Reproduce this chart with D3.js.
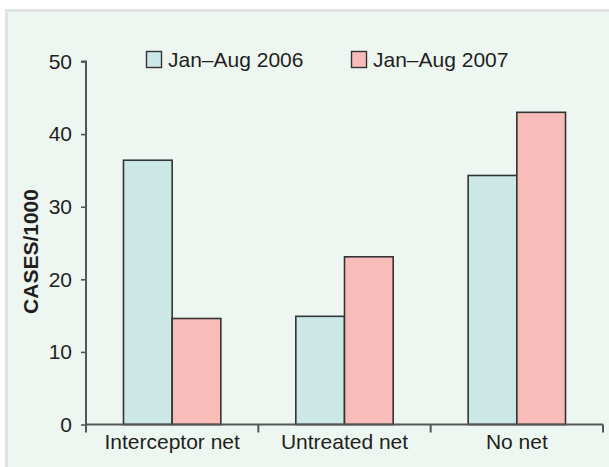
<!DOCTYPE html>
<html>
<head>
<meta charset="utf-8">
<script src="https://cdn.jsdelivr.net/npm/d3@7"></script>
<style>
  html, body { margin: 0; padding: 0; background: #ffffff; }
  svg { display: block; }
  text { font-family: "Liberation Sans", Arial, sans-serif; fill: #231f20; }
</style>
</head>
<body>
<svg id="chart" width="609" height="467"></svg>
<script>
const categories = ["Interceptor net", "Untreated net", "No net"];
const seriesNames = ["Jan\u2013Aug 2006", "Jan\u2013Aug 2007"];
const values2006 = [36.4, 14.9, 34.3];
const values2007 = [14.6, 23.1, 43.0];
const yTicks = [0, 10, 20, 30, 40, 50];
const yLabel = "CASES/1000";
const colors = ["#cbe8e7", "#f9bdb9"];

(function () {
const svg = d3.select("#chart");

// panel background
svg.append("rect")
  .attr("x", 6.5).attr("y", 10.5)
  .attr("width", 620).attr("height", 480)
  .attr("fill", "#eef6f1")
  .attr("stroke", "#dfe3e3").attr("stroke-width", 3);

const mLeft = 86, mRight = 603, mTop = 61.5, mBottom = 424.5;

const x0 = d3.scaleBand().domain(categories).range([mLeft, mRight]).padding(0);
const x1 = d3.scaleBand().domain(seriesNames).range([0, x0.bandwidth()]).paddingInner(0).paddingOuter(0.77);
const y = d3.scaleLinear().domain([0, 50]).range([mBottom, mTop]);

const data = categories.map((c, i) => ({
  cat: c,
  vals: [
    { s: seriesNames[0], v: values2006[i], c: colors[0] },
    { s: seriesNames[1], v: values2007[i], c: colors[1] }
  ]
}));

// bars
const g = svg.append("g");
g.selectAll("g.cat").data(data).join("g")
  .attr("class", "cat")
  .attr("transform", d => `translate(${x0(d.cat)},0)`)
  .selectAll("rect").data(d => d.vals).join("rect")
  .attr("x", d => x1(d.s))
  .attr("y", d => y(d.v))
  .attr("width", x1.bandwidth())
  .attr("height", d => y(0) - y(d.v))
  .attr("fill", d => d.c)
  .attr("stroke", "#333333")
  .attr("stroke-width", 1.6);

// y axis
const yAxis = d3.axisLeft(y).tickValues(yTicks).tickSize(5).tickPadding(9).tickFormat(d3.format("d"));
const yg = svg.append("g").attr("transform", `translate(${mLeft},0)`).call(yAxis);
yg.select(".domain").attr("stroke", "#555").attr("stroke-width", 2).attr("d", `M-5,${mTop}H0V${mBottom}`);
yg.selectAll(".tick line").attr("stroke", "#555").attr("stroke-width", 1.6);
yg.selectAll(".tick text").style("font-family", "Liberation Sans, Arial, sans-serif").style("font-size", "21px").attr("fill", "#231f20");

// x axis
const xAxis = d3.axisBottom(x0).tickSize(0).tickPadding(10);
const xg = svg.append("g").attr("transform", `translate(0,${mBottom})`).call(xAxis);
xg.select(".domain").attr("stroke", "#555").attr("stroke-width", 2).attr("d", `M${mLeft},0H${mRight}`);
xg.selectAll(".tick text").style("font-family", "Liberation Sans, Arial, sans-serif").style("font-size", "21px").attr("fill", "#231f20");
const boundaries = categories.map(c => x0(c)).concat([x0(categories[categories.length - 1]) + x0.bandwidth()]);
xg.selectAll("line.sep").data(boundaries).join("line")
  .attr("class", "sep")
  .attr("x1", d => d).attr("x2", d => d)
  .attr("y1", 0).attr("y2", 8)
  .attr("stroke", "#555").attr("stroke-width", 2);

// y label
svg.append("text")
  .attr("transform", `translate(38,251.5) rotate(-90)`)
  .attr("text-anchor", "middle")
  .style("font-size", "21px").style("font-weight", "bold")
  .text(yLabel);

// legend
const legendX = [146, 351];
const lg = svg.append("g");
seriesNames.forEach((s, i) => {
  lg.append("rect")
    .attr("x", legendX[i] + 0.5).attr("y", 51.5)
    .attr("width", 15).attr("height", 16)
    .attr("fill", colors[i]).attr("stroke", "#333").attr("stroke-width", 1.4);
  lg.append("text")
    .attr("x", legendX[i] + 22).attr("y", 67)
    .style("font-size", "21px")
    .text(s);
});
})();
</script>
</body>
</html>
